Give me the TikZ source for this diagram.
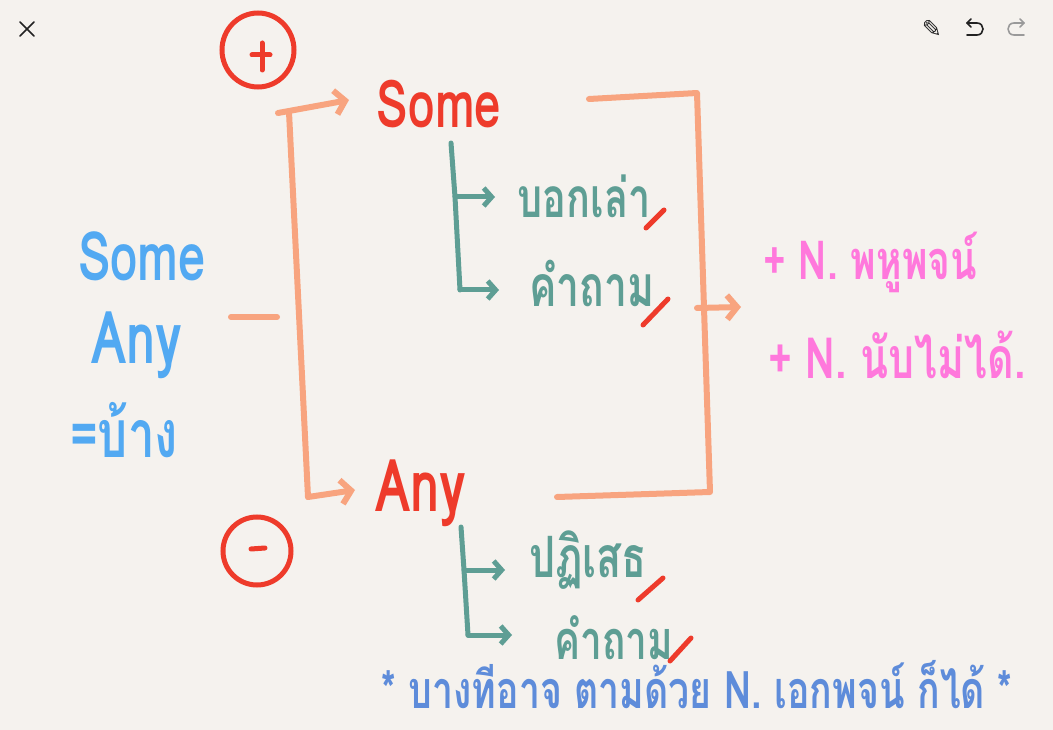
\documentclass[tikz,border=0pt]{standalone}
\usepackage{fontspec}
\setmainfont[Script=Thai,FakeStretch=0.72]{Loma}
\newfontfamily\symfont{DejaVu Sans}
\usetikzlibrary{arrows.meta}
\definecolor{bgc}{HTML}{F5F2EE}
\definecolor{redc}{HTML}{EE3B2B}
\definecolor{orc}{HTML}{F8A47F}
\definecolor{teal}{HTML}{5E9E94}
\definecolor{bluec}{HTML}{52A9F2}
\definecolor{pinkc}{HTML}{FF78DC}
\definecolor{blue2}{HTML}{5E8CDA}
\definecolor{uic}{HTML}{222222}
\definecolor{uigray}{HTML}{9A9A9A}
\tikzset{
  orline/.style={draw=orc, line width=6pt, line cap=round, line join=round},
  tealline/.style={draw=teal, line width=5pt, line cap=round, line join=round},
  redmark/.style={draw=redc, line width=5pt, line cap=round},
  barb/.style={-{Straight Barb[length=10pt,width=24pt,line width=6pt]}},
  tbarb/.style={-{Straight Barb[length=8pt,width=18pt,line width=5pt]}},
  lbl/.style={inner sep=0pt, font=\bfseries},
  uiline/.style={line width=1.6pt, line cap=round, line join=round},
}
\newcommand{\fs}[1]{\bfseries\fontsize{#1}{#1}\selectfont}
\begin{document}
\begin{tikzpicture}[x=1pt,y=-1pt]
\fill[bgc] (0,0) rectangle (1053,730);
\useasboundingbox (0,0) rectangle (1053,730);
% UI icons
\draw[uic, uiline] (20,22) -- (34,36) (34,22) -- (20,36);
\node[lbl, text=uic, font=\symfont\fontsize{24}{24}\selectfont] (pencil) at (932,29) {✎};
\draw[uic, uiline] (971,19) -- (967,23) -- (971,27);
\draw[uic, uiline] (967,23) -- (977,23) .. controls (985,23) and (985,35) .. (977,35) -- (967,35);
\draw[uigray, uiline] (1020,19) -- (1024,23) -- (1020,27);
\draw[uigray, uiline] (1024,23) -- (1014,23) .. controls (1006,23) and (1006,35) .. (1014,35) -- (1024,35);
% plus / minus circles
\draw[redc, line width=5pt] (258,50) ellipse[x radius=36, y radius=37];
\node[lbl] (plus) at (258,50) {};
\draw[redc, line width=5pt, line cap=round] (252,55) -- (270,55) (262,43) -- (262,70);
\draw[redc, line width=5pt] (257,551) ellipse[x radius=34, y radius=34];
\node[lbl] (minus) at (257,551) {};
\draw[redc, line width=5pt, line cap=round] (251,549) -- (265,548);
% left blue text
\node[lbl, text=bluec, font=\fs{68}] (bsome) at (142,256) {Some};
\node[lbl, text=bluec, font=\fs{73}] (bany) at (137,345) {Any};
\node[lbl, text=bluec, font=\fs{66}] (bkhang) at (124,430) {=บ้าง};
% orange left bracket
\coordinate (lstart) at (231,317);
\coordinate (lend) at (277,317);
\draw[orline] (lstart) -- (lend);
\coordinate (btop) at (289,112);
\coordinate (bbot) at (308,497);
\coordinate (btopl) at (278,113);
\draw[orline] (btop) -- (bbot);
\node[lbl, text=redc, font=\fs{66}] (rsome) at (439,104) {Some};
\node[lbl, text=redc, font=\fs{73}] (rany) at (421,493) {Any};
\draw[orline, barb] (btopl) -- (349,100);
\draw[orline, barb] (bbot) -- (355,490);
% teal tree under Some
\coordinate (t1a) at (451,143);
\coordinate (t1b) at (455,197);
\coordinate (t1c) at (460,290);
\draw[tealline] (t1a) -- (t1b) -- (t1c);
\draw[tealline, tbarb] (t1b) -- (495,197);
\draw[tealline, tbarb] (t1c) -- (499,290);
\node[lbl, text=teal, font=\fs{55}] (boklao) at (584,196) {บอกเล่า};
\node[lbl, text=teal, font=\fs{57}] (kham1) at (592,283) {คำถาม};
\draw[redmark] (646,228) -- (664,210);
\draw[redmark] (643,325) -- (668,299);
% teal tree under Any
\coordinate (t2a) at (461,527);
\coordinate (t2b) at (464,570);
\coordinate (t2c) at (468,635);
\draw[tealline] (t2a) -- (t2b) -- (t2c);
\draw[tealline, tbarb] (t2b) -- (505,570);
\draw[tealline, tbarb] (t2c) -- (512,635);
\node[lbl, text=teal, font=\fs{57}] (patised) at (588,560) {ปฏิเสธ};
\node[lbl, text=teal, font=\fs{54}] (kham2) at (614,638) {คำถาม};
\draw[redmark] (638,600) -- (663,578);
\draw[redmark] (670,661) -- (691,638);
% right bracket
\coordinate (rt1) at (589,99);
\coordinate (rt2) at (697,93);
\coordinate (rb2) at (710,492);
\coordinate (rb1) at (557,497);
\draw[orline] (rt1) -- (rt2) -- (rb2) -- (rb1);
\coordinate (rmid) at (697,308);
\draw[orline, barb] (rmid) -- (741,307);
% pink text
\node[lbl, text=pinkc, font=\fs{54}, anchor=west] (plural) at (763,262) {+ N. พหูพจน์};
\node[lbl, text=pinkc, font=\fs{57}, anchor=west] (uncount) at (768,355) {+ N. นับไม่ได้.};
% bottom note
\node[lbl, text=blue2, font=\fs{52}, anchor=base] (note) at (697,708) {* บางทีอาจ ตามด้วย N. เอกพจน์ ก็ได้ *};
\end{tikzpicture}
\end{document}
